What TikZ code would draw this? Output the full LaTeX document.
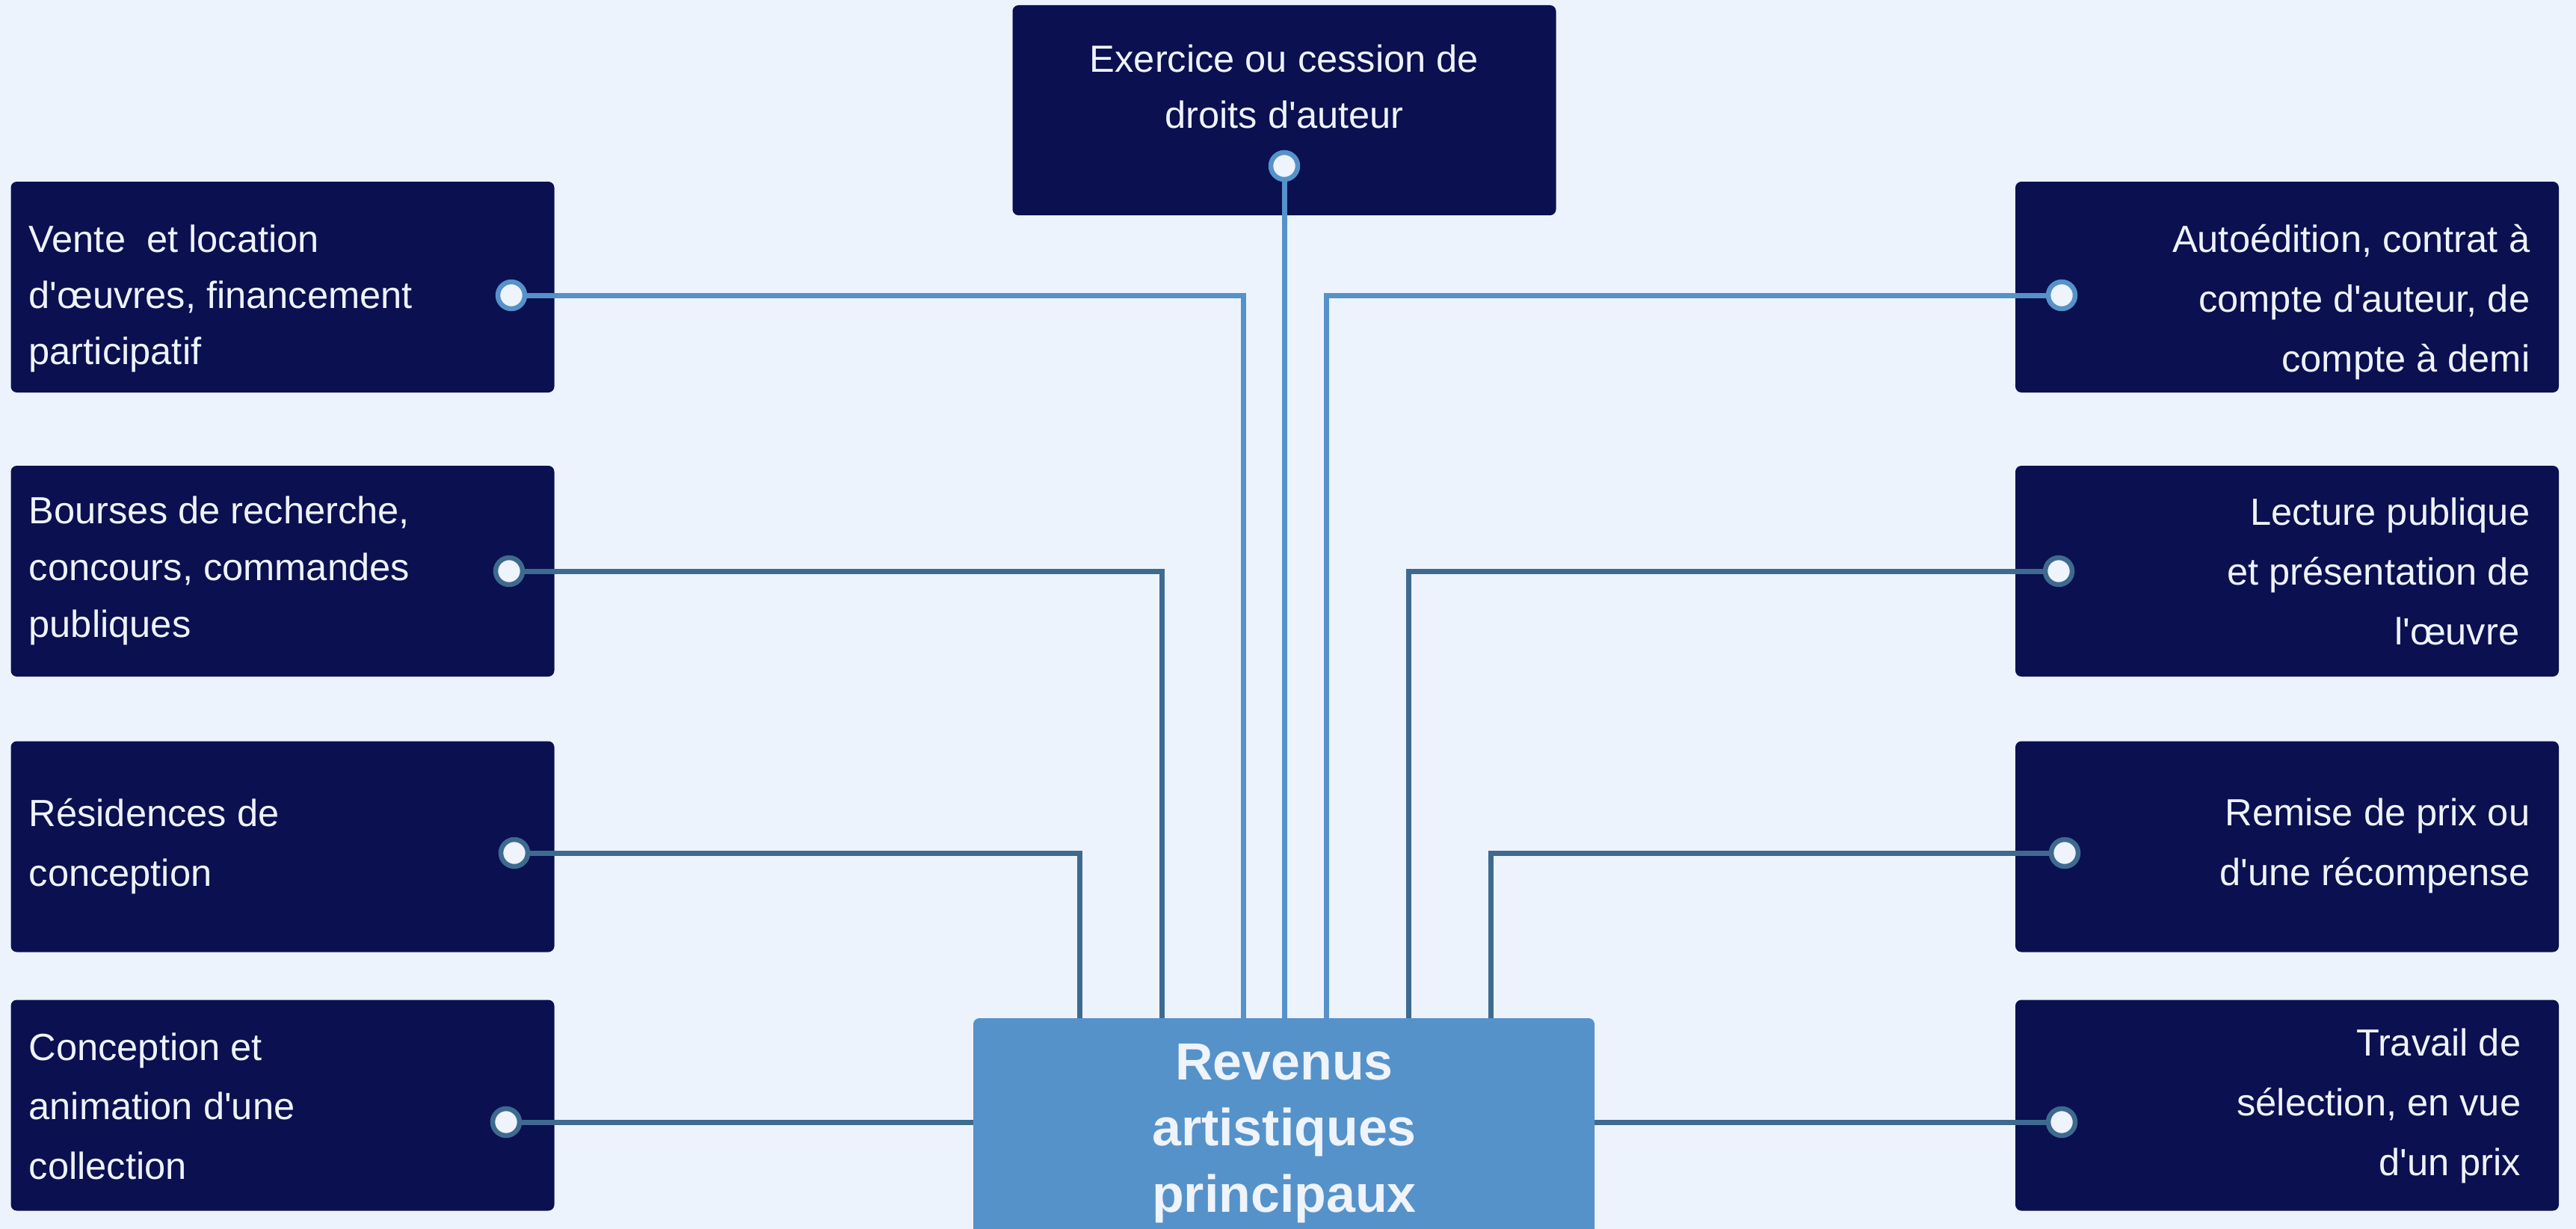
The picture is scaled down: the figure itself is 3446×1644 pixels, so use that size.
\documentclass[tikz,border=0pt]{standalone}
\usepackage{fontspec}
\setmainfont{Liberation Sans}[Ligatures=TeXOff]
\definecolor{bgc}{HTML}{EDF3FD}
\definecolor{navy}{HTML}{0A1050}
\definecolor{ctrc}{HTML}{5592C9}
\definecolor{lightln}{HTML}{5592C9}
\definecolor{darkln}{HTML}{3E6A90}
\definecolor{txtc}{HTML}{EEF3FC}
\newcommand\LeftLines[2]{\vtop{\baselineskip=#1\lineskiplimit=-20pt\halign{##\hfil\cr#2\crcr}}}
\newcommand\RightLines[2]{\vtop{\baselineskip=#1\lineskiplimit=-20pt\halign{\hfil##\cr#2\crcr}}}
\newcommand\MidLines[2]{\vtop{\baselineskip=#1\lineskiplimit=-20pt\halign{\hfil##\hfil\cr#2\crcr}}}
\tikzset{
  srcbox/.style={fill=navy, rounded corners=0.8mm, inner sep=0pt, minimum width=72.7mm, minimum height=28.2mm},
  topbox/.style={srcbox, minimum width=72.7mm, minimum height=28.1mm},
  ctrbox/.style={fill=ctrc, rounded corners=0.8mm, inner sep=0pt, minimum width=83.1mm, minimum height=34mm},
  lbl/.style={inner sep=0pt, text=txtc, font=\fontsize{14.4pt}{21pt}\selectfont},
  ctrlbl/.style={inner sep=0pt, text=txtc, font=\fontsize{19.9pt}{25pt}\selectfont\bfseries},
  dotlight/.style={circle, draw=lightln, fill=txtc, line width=0.65mm, minimum size=3.6mm, inner sep=0pt},
  dotdark/.style={dotlight, draw=darkln},
  lnlight/.style={draw=lightln, line width=0.7mm},
  lndark/.style={draw=darkln, line width=0.7mm},
}
\begin{document}
\begin{tikzpicture}[x=0.1mm, y=-0.1mm]
\useasboundingbox[fill=bgc] (0,0) rectangle (3446,1644);
% source boxes
\node[topbox] (bT) at (1718,147.5) {};
\node[srcbox] (bL1) at (378,384) {};
\node[srcbox] (bL2) at (378,764) {};
\node[srcbox] (bL3) at (378,1132.5) {};
\node[srcbox] (bL4) at (378,1478.5) {};
\node[srcbox] (bR1) at (3059.5,384) {};
\node[srcbox] (bR2) at (3059.5,764) {};
\node[srcbox] (bR3) at (3059.5,1132.5) {};
\node[srcbox] (bR4) at (3059.5,1478.5) {};
% labels
\node[lbl, anchor=base] (tT) at (1718,97) {\MidLines{7.5mm}{Exercice ou cession de\cr droits d'auteur}};
\node[lbl, anchor=base west] (tL1) at (38,337) {\LeftLines{7.55mm}{Vente \ et location\cr d'œuvres, financement\cr participatif}};
\node[lbl, anchor=base west] (tL2) at (38,700) {\LeftLines{7.6mm}{Bourses de recherche,\cr concours, commandes\cr publiques}};
\node[lbl, anchor=base west] (tL3) at (38,1105) {\LeftLines{8mm}{Résidences de\cr conception}};
\node[lbl, anchor=base west] (tL4) at (38,1418) {\LeftLines{7.95mm}{Conception et\cr animation d'une\cr collection}};
\node[lbl, anchor=base east] (tR1) at (3385,338) {\RightLines{8mm}{Autoédition, contrat à\cr compte d'auteur, de\cr compte à demi}};
\node[lbl, anchor=base east] (tR2) at (3385,702) {\RightLines{8mm}{Lecture publique\cr et présentation de\cr l'œuvre\hspace*{0.278em}}};
\node[lbl, anchor=base east] (tR3) at (3385,1104) {\RightLines{8mm}{Remise de prix ou\cr d'une récompense}};
\node[lbl, anchor=base east] (tR4) at (3373,1412) {\RightLines{8mm}{Travail de\cr sélection, en vue\cr d'un prix}};
% connector ends on the centre box
\coordinate (cT) at (1718,1362);
\coordinate (cL1) at (1663,1362);
\coordinate (cL2) at (1554,1362);
\coordinate (cL3) at (1444,1362);
\coordinate (cR1) at (1774,1362);
\coordinate (cR2) at (1884,1362);
\coordinate (cR3) at (1994,1362);
\coordinate (cL4) at (1303,1501);
\coordinate (cR4) at (2132,1501);
% dot positions (drawn after connectors)
\coordinate (pT) at (1718,222);
\coordinate (pL1) at (684,395);
\coordinate (pL2) at (681,764);
\coordinate (pL3) at (688,1141);
\coordinate (pL4) at (677,1501);
\coordinate (pR1) at (2758,395);
\coordinate (pR2) at (2754,764);
\coordinate (pR3) at (2762,1141);
\coordinate (pR4) at (2758,1501);
% connectors
\draw[lnlight] (pT) -- (cT);
\draw[lnlight] (pL1) -| (cL1);
\draw[lndark] (pL2) -| (cL2);
\draw[lndark] (pL3) -| (cL3);
\draw[lndark] (pL4) -- (cL4);
\draw[lnlight] (pR1) -| (cR1);
\draw[lndark] (pR2) -| (cR2);
\draw[lndark] (pR3) -| (cR3);
\draw[lndark] (pR4) -- (cR4);
% dots
\node[dotlight] (dT) at (pT) {};
\node[dotlight] (dL1) at (pL1) {};
\node[dotdark] (dL2) at (pL2) {};
\node[dotdark] (dL3) at (pL3) {};
\node[dotdark] (dL4) at (pL4) {};
\node[dotlight] (dR1) at (pR1) {};
\node[dotdark] (dR2) at (pR2) {};
\node[dotdark] (dR3) at (pR3) {};
\node[dotdark] (dR4) at (pR4) {};
% centre box
\begin{scope}
\clip (0,0) rectangle (3446,1644);
\node[ctrbox] (ctr) at (1717.5,1532) {};
\end{scope}
\node[ctrlbl, anchor=base] (tC) at (1718,1444) {\MidLines{8.85mm}{Revenus\cr artistiques\cr principaux}};
\end{tikzpicture}
\end{document}
